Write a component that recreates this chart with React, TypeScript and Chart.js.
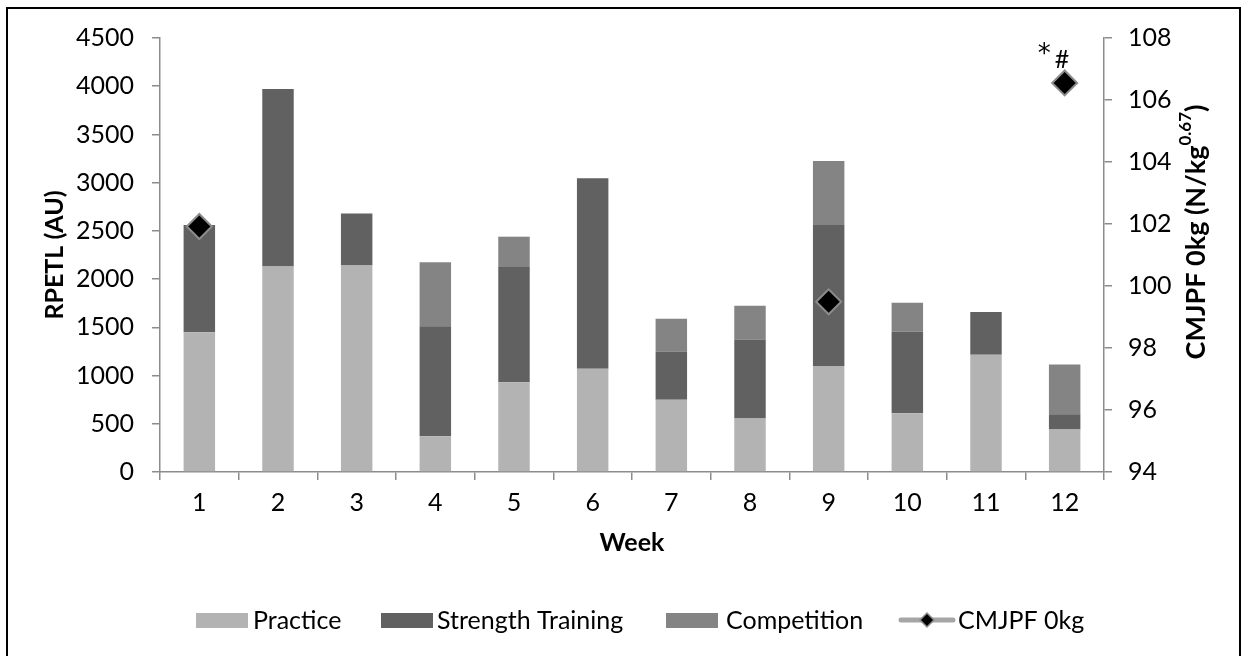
import React, { useEffect, useRef } from "react";
import { Chart, registerables } from "chart.js";

Chart.register(...registerables);

const weeks = ["1", "2", "3", "4", "5", "6", "7", "8", "9", "10", "11", "12"];
const practice = [1450, 2130, 2140, 370, 930, 1070, 750, 555, 1100, 610, 1215, 440];
const strength = [1110, 1840, 540, 1140, 1195, 1975, 500, 820, 1460, 845, 445, 160];
const competition = [0, 0, 0, 665, 315, 0, 340, 350, 665, 300, 0, 515];
const cmjpf: (number | null)[] = [101.92, null, null, null, null, null, null, null, 99.49, null, null, 106.55];
const leftAxis = { min: 0, max: 4500, step: 500 };
const rightAxis = { min: 94, max: 108, step: 2 };
const seriesNames = ["Practice", "Strength Training", "Competition", "CMJPF 0kg"];
const colors = ["#b3b3b3", "#616161", "#848484"];
const FONT = "Lato, 'Open Sans', sans-serif";
const AXIS = "#8c8c8c";
const TICK_SIZE = 25;

const extras = {
  id: "extras",
  afterDraw(chart: any) {
    const ctx = chart.ctx as CanvasRenderingContext2D;
    ctx.save();
    ctx.fillStyle = "#000";
    // right axis title with superscript
    ctx.save();
    ctx.translate(1196, 232);
    ctx.rotate(-Math.PI / 2);
    ctx.textBaseline = "middle";
    const main = "CMJPF 0kg (N/kg";
    const sup = "0.67";
    const close = ")";
    ctx.font = `bold 27px ${FONT}`;
    const wMain = ctx.measureText(main).width;
    const wClose = ctx.measureText(close).width;
    ctx.font = `bold 17px ${FONT}`;
    const wSup = ctx.measureText(sup).width;
    const x0 = -(wMain + wSup + wClose) / 2;
    ctx.font = `bold 27px ${FONT}`;
    ctx.textAlign = "left";
    ctx.fillText(main, x0, 0);
    ctx.font = `bold 17px ${FONT}`;
    ctx.fillText(sup, x0 + wMain, -10);
    ctx.font = `bold 27px ${FONT}`;
    ctx.fillText(close, x0 + wMain + wSup, 0);
    ctx.restore();

    // significance marks over last point
    const meta = chart.getDatasetMeta(3);
    const pt = meta.data[11];
    if (pt) {
      ctx.textAlign = "left";
      ctx.textBaseline = "alphabetic";
      ctx.font = `26px 'DejaVu Sans', ${FONT}`;
      ctx.fillText("*", pt.x - 27, pt.y - 21);
      ctx.font = `25px ${FONT}`;
      ctx.fillText("#", pt.x - 10, pt.y - 15);
    }

    // legend
    const ly = 620;
    const boxes = [196, 381, 666];
    const texts = [253, 437, 726, 958];
    ctx.font = `25px ${FONT}`;
    ctx.textBaseline = "middle";
    ctx.textAlign = "left";
    for (let i = 0; i < 3; i++) {
      ctx.fillStyle = colors[i];
      ctx.fillRect(boxes[i], ly - 7, 52, 15);
    }
    ctx.strokeStyle = "#a6a6a6";
    ctx.lineWidth = 5;
    ctx.lineCap = "round";
    ctx.beginPath();
    ctx.moveTo(901, ly);
    ctx.lineTo(953, ly);
    ctx.stroke();
    ctx.beginPath();
    const cx = 927, r = 7;
    ctx.moveTo(cx - r, ly);
    ctx.lineTo(cx, ly - r);
    ctx.lineTo(cx + r, ly);
    ctx.lineTo(cx, ly + r);
    ctx.closePath();
    ctx.fillStyle = "#000";
    ctx.fill();
    ctx.lineWidth = 1.5;
    ctx.strokeStyle = AXIS;
    ctx.stroke();
    ctx.fillStyle = "#000";
    for (let i = 0; i < 4; i++) ctx.fillText(seriesNames[i], texts[i], ly + 1);
    ctx.restore();
  },
};

const plain = (v: any) => String(v);

export default function App() {
  const ref = useRef<HTMLCanvasElement>(null);
  useEffect(() => {
    const chart = new Chart(ref.current!, {
      type: "bar",
      data: {
        labels: weeks,
        datasets: [
          { label: seriesNames[0], data: practice, backgroundColor: colors[0], yAxisID: "y", order: 1 },
          { label: seriesNames[1], data: strength, backgroundColor: colors[1], yAxisID: "y", order: 1 },
          { label: seriesNames[2], data: competition, backgroundColor: colors[2], yAxisID: "y", order: 1 },
          {
            type: "line",
            label: seriesNames[3],
            data: cmjpf,
            yAxisID: "y1",
            showLine: false,
            pointStyle: "rectRot",
            pointRadius: 12.5,
            pointBackgroundColor: "#000",
            pointBorderColor: AXIS,
            pointBorderWidth: 2,
            backgroundColor: "#000",
            borderColor: AXIS,
            order: 0,
          } as any,
        ],
      },
      options: {
        responsive: false,
        animation: false,
        devicePixelRatio: 1,
        datasets: { bar: { categoryPercentage: 1, barPercentage: 0.4, borderWidth: 0 } },
        layout: { padding: { left: 40, right: 35, top: 38, bottom: 98 } },
        plugins: { legend: { display: false }, tooltip: { enabled: false } },
        scales: {
          x: {
            stacked: true,
            offset: true,
            grid: { display: true, drawOnChartArea: false, drawTicks: true, tickLength: 8, color: AXIS, lineWidth: 1.5, offset: true },
            border: { color: AXIS, width: 1.5 },
            ticks: { color: "#000", font: { family: FONT, size: TICK_SIZE }, padding: 8 },
            title: { display: true, text: "Week", color: "#000", font: { family: FONT, size: 25, weight: "bold" }, padding: 0 },
            afterFit: (s: any) => { s.height = 86; },
          },
          y: {
            stacked: true,
            position: "left",
            min: leftAxis.min,
            max: leftAxis.max,
            grid: { display: true, drawOnChartArea: false, drawTicks: true, tickLength: 8, color: AXIS, lineWidth: 1.5 },
            border: { color: AXIS, width: 1.5 },
            ticks: { stepSize: leftAxis.step, color: "#000", font: { family: FONT, size: TICK_SIZE }, padding: 18, callback: plain },
            title: { display: true, text: "RPETL (AU)", color: "#000", font: { family: FONT, size: 25, weight: "bold" }, padding: 0 },
            afterFit: (s: any) => { s.width = 120; },
          },
          y1: {
            position: "right",
            min: rightAxis.min,
            max: rightAxis.max,
            grid: { display: true, drawOnChartArea: false, drawTicks: true, tickLength: 8, color: AXIS, lineWidth: 1.5 },
            border: { color: AXIS, width: 1.5 },
            ticks: { stepSize: rightAxis.step, color: "#000", font: { family: FONT, size: TICK_SIZE }, padding: 16, callback: plain },
            afterFit: (s: any) => { s.width = 105; },
          },
        },
      },
      plugins: [extras],
    });
    return () => chart.destroy();
  }, []);
  return (
    <>
      <div
        style={{
          position: "absolute",
          left: 6,
          top: 7,
          width: 1235,
          height: 649,
          boxSizing: "border-box",
          borderTop: "2px solid #000",
          borderLeft: "2px solid #000",
          borderRight: "2px solid #000",
          background: "#fff",
        }}
      />
      <canvas
        ref={ref}
        width={1244}
        height={656}
        style={{ position: "absolute", left: 0, top: 0, width: 1244, height: 656 }}
      />
    </>
  );
}
